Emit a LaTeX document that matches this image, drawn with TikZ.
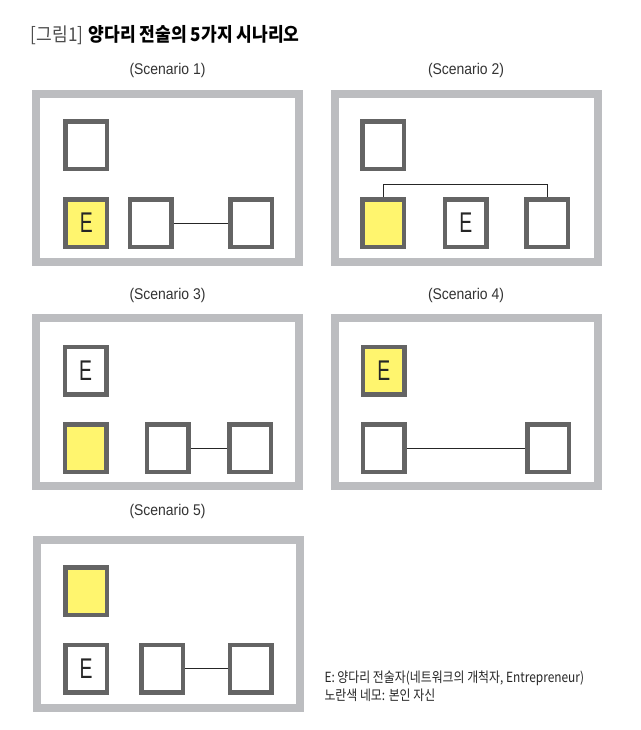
\documentclass[tikz,border=0pt]{standalone}
\usepackage{fontspec}
\setmainfont{Liberation Sans}
\newfontfamily\krn[FakeStretch=0.9]{Noto Sans CJK KR}
\newfontfamily\krl[FakeStretch=0.85]{Noto Sans CJK KR}
\newfontfamily\scen[FakeStretch=0.9]{Liberation Sans}
\newfontfamily\efont[FakeStretch=0.68]{Liberation Sans}
\definecolor{framegray}{RGB}{188,189,192}
\definecolor{boxgray}{RGB}{100,100,100}
\definecolor{selfyellow}{RGB}{255,245,110}
\tikzset{
  panel/.style={draw=framegray, line width=8pt, fill=white, minimum width=263pt, minimum height=168pt, inner sep=0pt},
  sq/.style={draw=boxgray, line width=4.5pt, fill=white, minimum width=41.5pt, minimum height=47.5pt, inner sep=0pt, text=black!85, font=\efont\fontsize{28.5}{28.5}\selectfont},
  self/.style={fill=selfyellow},
  link/.style={draw=black!85, line width=1pt},
  scenlabel/.style={font=\scen\fontsize{15.5}{17}\selectfont, text=black!80, inner sep=0pt},
  legend/.style={anchor=west, inner sep=0pt, text=black!85, font=\krl\fontsize{14}{16}\selectfont},
}
\begin{document}
\begin{tikzpicture}[x=1pt,y=-1pt]
\useasboundingbox[fill=white] (0,0) rectangle (640,730);
% title
\node[anchor=west, inner sep=0pt, font=\fontsize{19}{21}\selectfont] (title) at (30.7,35)
  {{\krn\color{black!70}[그림1]} {\krn\bfseries 양다리 전술의 5가지 시나리오}};
% panels
\node[panel] (p1) at (167.5,178) {};
\node[panel] (p2) at (466,178) {};
\node[panel] (p3) at (167.5,401.5) {};
\node[panel] (p4) at (466,401.5) {};
\node[panel] (p5) at (168,623.7) {};
% labels
\node[scenlabel] (l1) at (167.5,70.7) {(Scenario 1)};
\node[scenlabel] (l2) at (466,70.7) {(Scenario 2)};
\node[scenlabel] (l3) at (167.5,295) {(Scenario 3)};
\node[scenlabel] (l4) at (466,295) {(Scenario 4)};
\node[scenlabel] (l5) at (167.5,511.7) {(Scenario 5)};
% scenario 1
\node[sq] (a1) at (86.3,145.5) {};
\node[sq,self] (a2) at (86.3,223) {E};
\node[sq] (a3) at (150.8,223) {};
\node[sq] (a4) at (251,223) {};
\draw[link] (a3) -- (a4);
% scenario 2
\node[sq] (b1) at (383,145.5) {};
\node[sq,self] (b2) at (383,223) {};
\node[sq] (b3) at (465.8,223) {E};
\node[sq] (b4) at (547.3,223) {};
\coordinate (bar) at (0,184);
\draw[link] (b2.north) -- (b2.north |- bar) -- (b4.north |- bar) -- (b4.north);
% scenario 3
\node[sq] (c1) at (85.5,370.5) {E};
\node[sq,self] (c2) at (85.5,448.3) {};
\node[sq] (c3) at (167.7,448.3) {};
\node[sq] (c4) at (250,448.3) {};
\draw[link] (c3) -- (c4);
% scenario 4
\node[sq,self] (d1) at (383.8,370.5) {E};
\node[sq] (d2) at (383.8,448.3) {};
\node[sq] (d3) at (548.2,448.3) {};
\draw[link] (d2) -- (d3);
% scenario 5
\node[sq,self] (e1) at (86,591.2) {};
\node[sq] (e2) at (86,668.8) {E};
\node[sq] (e3) at (162.3,668.8) {};
\node[sq] (e4) at (250.5,668.8) {};
\draw[link] (e3) -- (e4);
% legend
\node[legend] (leg1) at (324.3,678.3) {E: 양다리 전술자(네트워크의 개척자, Entrepreneur)};
\node[legend] (leg2) at (324.3,695.7) {노란색 네모: 본인 자신};
\end{tikzpicture}
\end{document}
